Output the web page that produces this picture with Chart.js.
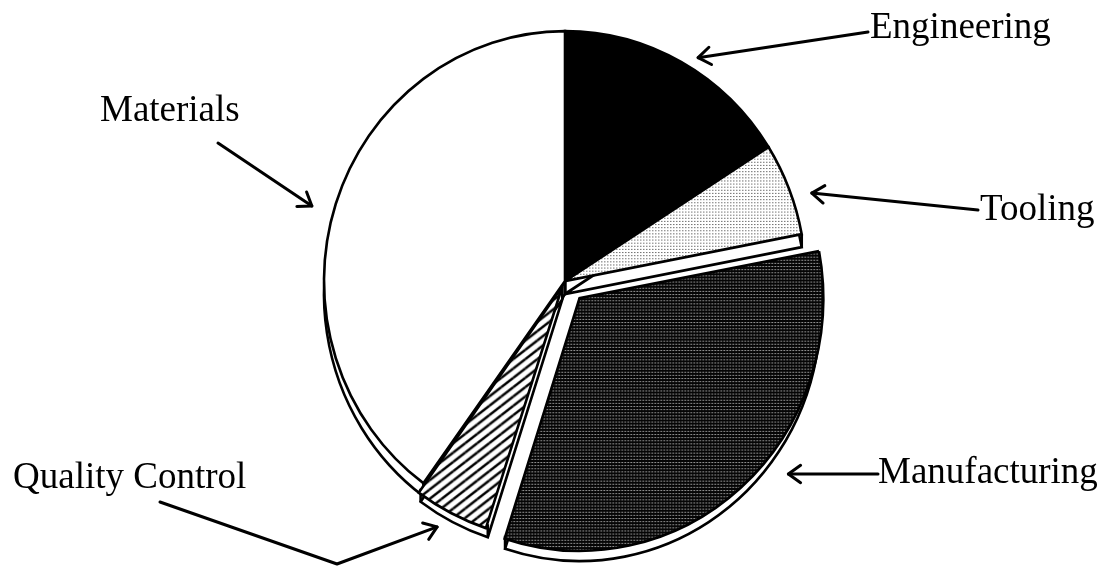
<!DOCTYPE html>
<html>
<head>
<meta charset="utf-8">
<script src="https://cdn.jsdelivr.net/npm/chart.js@4.4.1/dist/chart.umd.min.js"></script>
<style>
  html, body { margin: 0; padding: 0; background: #fff; }
  canvas { display: block; }
</style>
</head>
<body>
<canvas id="pie" width="1101" height="566"></canvas>
<script>
// Cost breakdown (percent of total), clockwise from 12 o'clock
const categories = ['Engineering', 'Tooling', 'Manufacturing', 'Quality Control', 'Materials'];
const shares = [16, 6, 33, 5, 40];

// Slices pulled out of the pie (Chart.js arc offset; it moves the slice by offset / 4 px)
const explode = [0, 0, 88, 24, 0];

// Thickness of the pie's side wall (px) and the slight vertical stretch of the disc
const DEPTH = 13;
const STRETCH = 1.037;

const canvas = document.getElementById('pie');
const ctx = canvas.getContext('2d');

function tilePattern(w, h, paint) {
  const c = document.createElement('canvas');
  c.width = w; c.height = h;
  const g = c.getContext('2d');
  paint(g, w, h);
  return ctx.createPattern(c, 'repeat');
}

// Light dot screen
const lightDots = tilePattern(3, 3, (g) => {
  g.fillStyle = '#fff'; g.fillRect(0, 0, 3, 3);
  g.fillStyle = '#777'; g.fillRect(1, 1, 1, 1);
  g.fillStyle = '#bbb'; g.fillRect(2, 1, 1, 1);
});

// Dark dot screen
const darkDots = tilePattern(3, 3, (g) => {
  g.fillStyle = '#050505'; g.fillRect(0, 0, 3, 3);
  g.fillStyle = '#c8c8c8'; g.fillRect(1, 1, 1, 1);
  g.fillStyle = '#404040'; g.fillRect(2, 1, 1, 1);
});

// Diagonal hatching
const hatch = tilePattern(12, 9, (g, w, h) => {
  g.fillStyle = '#fff'; g.fillRect(0, 0, w, h);
  g.strokeStyle = '#000'; g.lineWidth = 2.4;
  for (let ox = -w; ox <= w; ox += w) {
    for (let oy = -h; oy <= h; oy += h) {
      g.beginPath(); g.moveTo(ox, h + oy); g.lineTo(w + ox, oy); g.stroke();
    }
  }
});

const fills = ['#000', lightDots, darkDots, hatch, '#fff'];

function sector(c, cx, cy, r, a0, a1) {
  c.beginPath();
  c.moveTo(cx, cy);
  c.arc(cx, cy, r, a0, a1);
  c.closePath();
}

// Where a slice's top face actually sits once pulled out (unstretched space)
function sliceCenter(arc) {
  const p = arc.getProps(['x', 'y', 'startAngle', 'endAngle', 'outerRadius'], true);
  const off = (arc.options.offset || 0) / 4;
  const mid = (p.startAngle + p.endAngle) / 2;
  return { cx: p.x + Math.cos(mid) * off, cy: p.y + Math.sin(mid) * off, mid, ...p };
}

// Stretches the disc a little vertically and draws each slice's side wall,
// back to front, beneath the top faces
const sideWalls = {
  id: 'sideWalls',
  beforeDatasetsDraw(chart) {
    const c = chart.ctx;
    const arcs = chart.getDatasetMeta(0).data.map(sliceCenter);
    const y0 = arcs[0].y;
    c.save();
    c.translate(0, y0);
    c.scale(1, STRETCH);
    c.translate(0, -y0);
    const d = DEPTH / STRETCH;
    const order = arcs.map((a, i) => i).sort((i, j) =>
      (arcs[i].cy + Math.sin(arcs[i].mid) * arcs[i].outerRadius * 0.5) -
      (arcs[j].cy + Math.sin(arcs[j].mid) * arcs[j].outerRadius * 0.5));
    c.save();
    c.lineWidth = 2.6;
    c.strokeStyle = '#000';
    c.lineJoin = 'miter';
    for (const i of order) {
      const a = arcs[i];
      c.fillStyle = '#fff';
      for (let t = 0; t <= d; t += 1) {
        sector(c, a.cx, a.cy + t, a.outerRadius, a.startAngle, a.endAngle);
        c.fill();
      }
      sector(c, a.cx, a.cy + d, a.outerRadius, a.startAngle, a.endAngle);
      c.fill();
      c.stroke();
      c.beginPath();
      for (const ang of [a.startAngle, a.endAngle]) {
        const px = a.cx + Math.cos(ang) * a.outerRadius;
        const py = a.cy + Math.sin(ang) * a.outerRadius;
        c.moveTo(px, py); c.lineTo(px, py + d);
      }
      c.moveTo(a.cx, a.cy); c.lineTo(a.cx, a.cy + d);
      c.stroke();
    }
    c.restore();
  },
  afterDatasetsDraw(chart) {
    chart.ctx.restore();
  }
};

// Callouts: text, where its leader starts, optional bend, and where the
// arrow lands (angle clockwise from 12 o'clock, distance from slice centre)
const callouts = [
  { slice: 0, x: 870, y: 38,  from: [868, 32],  via: null,       deg: 30.8,  dist: 260 },
  { slice: 1, x: 980, y: 220, from: [978, 210], via: null,       deg: 70.4,  dist: 262 },
  { slice: 2, x: 878, y: 483, from: [878, 474], via: null,       deg: 130.1, dist: 273 },
  { slice: 3, x: 13,  y: 488, from: [160, 502], via: [337, 564], deg: 207.5, dist: 271 },
  { slice: 4, x: 100, y: 121, from: [218, 143], via: null,       deg: 286.5, dist: 264 }
];

const calloutPlugin = {
  id: 'callouts',
  afterDraw(chart) {
    const c = chart.ctx;
    const arcs = chart.getDatasetMeta(0).data.map(sliceCenter);
    c.save();
    c.font = '37px "Liberation Serif", "Times New Roman", serif';
    c.fillStyle = '#000';
    c.textBaseline = 'alphabetic';
    c.strokeStyle = '#000';
    c.lineWidth = 3;
    c.lineCap = 'round';
    c.lineJoin = 'round';
    for (const co of callouts) {
      c.fillText(categories[co.slice], co.x, co.y);
      const a = arcs[co.slice];
      const sx = a.cx;
      const sy = a.y + (a.cy - a.y) * STRETCH;
      const ang = co.deg * Math.PI / 180 - Math.PI / 2;
      const tx = sx + Math.cos(ang) * co.dist;
      const ty = sy + Math.sin(ang) * co.dist;
      c.beginPath();
      c.moveTo(co.from[0], co.from[1]);
      let px = co.from[0], py = co.from[1];
      if (co.via) { c.lineTo(co.via[0], co.via[1]); px = co.via[0]; py = co.via[1]; }
      c.lineTo(tx, ty);
      c.stroke();
      // open arrowhead
      const dir = Math.atan2(ty - py, tx - px);
      const len = 15, spread = 0.62;
      c.beginPath();
      c.moveTo(tx - Math.cos(dir - spread) * len, ty - Math.sin(dir - spread) * len);
      c.lineTo(tx, ty);
      c.lineTo(tx - Math.cos(dir + spread) * len, ty - Math.sin(dir + spread) * len);
      c.stroke();
    }
    c.restore();
  }
};

new Chart(ctx, {
  type: 'pie',
  data: {
    labels: categories,
    datasets: [{
      data: shares,
      backgroundColor: fills,
      borderColor: '#000',
      borderWidth: 2.6,
      borderJoinStyle: 'miter',
      borderAlign: 'center',
      offset: explode,
      radius: 241
    }]
  },
  options: {
    responsive: false,
    animation: false,
    events: [],
    layout: { padding: { left: 29, right: 0, top: 0, bottom: 4 } },
    plugins: {
      legend: { display: false },
      tooltip: { enabled: false }
    }
  },
  plugins: [sideWalls, calloutPlugin]
});
</script>
</body>
</html>
